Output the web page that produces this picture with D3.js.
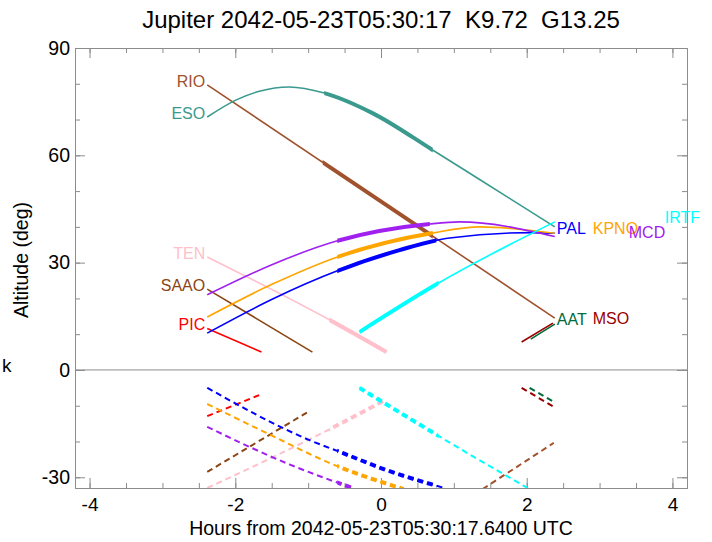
<!DOCTYPE html>
<html>
<head>
<meta charset="utf-8">
<script src="https://cdn.jsdelivr.net/npm/d3@7"></script>
<style>
  html, body { margin: 0; padding: 0; background: #fff; }
  svg { display: block; }
  text { font-family: "Liberation Sans", Arial, Helvetica, sans-serif; }
</style>
</head>
<body>
<svg id="chart" width="712" height="542"></svg>
<script>
// ---------------- DATA ----------------
const titleText = "Jupiter 2042-05-23T05:30:17  K9.72  G13.25";
const xLabelText = "Hours from 2042-05-23T05:30:17.6400 UTC";
const yLabelText = "Altitude (deg)";
const strayText = "k";

const xMajorTicks = [-4, -2, 0, 2, 4];
const xMinorTicks = d3.range(-4, 4.01, 0.5);
const yMajorTicks = [-30, 0, 30, 60, 90];
const yMinorTicks = d3.range(-30, 90.01, 10);

const stations = ["RIO", "ESO", "TEN", "SAAO", "PIC", "PAL", "KPNO", "MCD", "IRTF", "AAT", "MSO"];

// altitude tracks [hours, altitude deg]
const altRIO  = [[-2.385, 79.7], [2.385, 14.5]];
const altESO  = [[-2.385, 70.7], [-1.986, 75.5], [-1.67, 77.9], [-1.258, 79.1], [-0.777, 77.4], [-0.117, 71.8], [0.708, 61.5], [1.326, 53.6], [2.385, 40.0]];
const altTEN  = [[-2.385, 31.6], [-0.708, 14.0], [0.076, 5.0]];
const altSAAO = [[-2.385, 22.6], [-0.941, 5.0]];
const altPIC  = [[-2.385, 11.6], [-1.64, 5.0]];
const altPAL  = [[-2.385, 10.3], [-1.48, 19.9], [-0.598, 27.7], [0.254, 33.5], [0.942, 36.9], [2.082, 38.4], [2.385, 38.2]];
const altKPNO = [[-2.385, 14.8], [-1.49, 24.0], [-0.598, 31.6], [0.708, 38.3], [1.354, 40.0], [2.385, 38.2]];
const altMCD  = [[-2.385, 21.0], [-1.49, 29.5], [-0.598, 36.1], [0.667, 40.8], [1.079, 41.4], [2.385, 37.3]];
const altIRTF = [[-0.296, 10.6], [0.790, 24.3], [2.385, 41.4]];
const altAAT  = [[2.055, 8.6], [2.385, 12.8]];
const altMSO  = [[1.93, 7.8], [2.36, 13.1]];

// lower (dashed) tracks [hours, value]
const lowRIO  = [[1.395, -33.3], [2.371, -20.4]];
const lowESO  = [];
const lowTEN  = [[-2.385, -33.0], [-0.709, -16.6], [0.076, -8.2]];
const lowSAAO = [[-2.385, -28.5], [-0.983, -11.5]];
const lowPIC  = [[-2.385, -12.9], [-1.67, -7.0]];
const lowPAL  = [[-2.385, -5.0], [-0.983, -19.6], [-0.529, -23.2], [0.076, -28.0], [0.87, -33.0]];
const lowKPNO = [[-2.385, -9.5], [-1.574, -17.6], [-0.612, -26.8], [0.31, -33.3]];
const lowMCD  = [[-2.385, -15.9], [-1.258, -26.4], [-0.392, -33.0]];
const lowIRTF = [[-0.296, -5.0], [1.216, -23.6], [2.014, -33.0]];
const lowAAT  = [[2.04, -5.0], [2.37, -8.9]];
const lowMSO  = [[1.93, -5.0], [2.37, -10.3]];

// time windows (hours) drawn heavier
const thickRIO  = [-0.80, 0.71];
const thickESO  = [-0.78, 0.71];
const thickTEN  = [-0.71, 0.10];
const thickSAAO = null;
const thickPIC  = null;
const thickPAL  = [-0.60, 0.76];
const thickKPNO = [-0.60, 0.71];
const thickMCD  = [-0.60, 0.67];
const thickIRTF = [-0.30, 0.79];
const thickAAT  = null;
const thickMSO  = null;

// ---------------- STYLE / LAYOUT ----------------
const colors = {
  RIO: "#a0522d", ESO: "#3a9a8e", TEN: "#ffc0cb", SAAO: "#8b4513", PIC: "#ff0000",
  PAL: "#0000ff", KPNO: "#ffa500", MCD: "#a020f0", IRTF: "#00ffff", AAT: "#006a3a", MSO: "#990000"
};
const labelPlace = {
  RIO: {side: "L"}, ESO: {side: "L"}, TEN: {side: "L"}, SAAO: {side: "L"}, PIC: {side: "L"},
  PAL: {side: "R", step: 0, ref: "PAL"}, KPNO: {side: "R", step: 1, ref: "PAL"},
  MCD: {side: "R", step: 2, ref: "PAL"}, IRTF: {side: "R", step: 3, ref: "PAL"},
  AAT: {side: "R", step: 0, ref: "RIO"}, MSO: {side: "R", step: 1, ref: "RIO"}
};

const alt = {RIO: altRIO, ESO: altESO, TEN: altTEN, SAAO: altSAAO, PIC: altPIC, PAL: altPAL, KPNO: altKPNO, MCD: altMCD, IRTF: altIRTF, AAT: altAAT, MSO: altMSO};
const low = {RIO: lowRIO, ESO: lowESO, TEN: lowTEN, SAAO: lowSAAO, PIC: lowPIC, PAL: lowPAL, KPNO: lowKPNO, MCD: lowMCD, IRTF: lowIRTF, AAT: lowAAT, MSO: lowMSO};
const thick = {RIO: thickRIO, ESO: thickESO, TEN: thickTEN, SAAO: thickSAAO, PIC: thickPIC, PAL: thickPAL, KPNO: thickKPNO, MCD: thickMCD, IRTF: thickIRTF, AAT: thickAAT, MSO: thickMSO};

const L = 75, R = 687, T = 48, B = 488;
const axisColor = "#8c8c8c";

const svg = d3.select("#chart");
const x = d3.scaleLinear().domain([-4.2, 4.2]).range([L, R]);
const y = d3.scaleLinear().domain([-33, 90]).range([B, T]);

const defs = svg.append("defs");
defs.append("clipPath").attr("id", "plotclip")
  .append("rect").attr("x", L).attr("y", T).attr("width", R - L).attr("height", B - T);

const line = d3.line().x(d => x(d[0])).y(d => y(d[1])).curve(d3.curveMonotoneX);

stations.forEach(s => {
  const w = thick[s];
  if (!w) return;
  defs.append("clipPath").attr("id", "thick-" + s)
    .append("rect").attr("x", x(w[0])).attr("y", T)
    .attr("width", x(w[1]) - x(w[0])).attr("height", B - T);
});

function addAxis(gen, transform, ticks, size, labels) {
  const g = svg.append("g").attr("transform", transform)
    .call(gen.tickValues(ticks).tickSizeInner(size).tickSizeOuter(0));
  g.select(".domain").attr("stroke", axisColor);
  g.selectAll(".tick line").attr("stroke", axisColor);
  if (!labels) g.selectAll(".tick text").remove();
  return g;
}
const fmt = d => String(d);
addAxis(d3.axisBottom(x), `translate(0,${B})`, xMinorTicks, -5, false);
addAxis(d3.axisTop(x), `translate(0,${T})`, xMinorTicks, -5, false);
addAxis(d3.axisLeft(y), `translate(${L},0)`, yMinorTicks, -5, false);
addAxis(d3.axisRight(y), `translate(${R},0)`, yMinorTicks, -5, false);
const gx = addAxis(d3.axisBottom(x).tickFormat(fmt).tickPadding(10), `translate(0,${B})`, xMajorTicks, -10, true);
gx.selectAll(".tick text").attr("font-size", 19).attr("fill", "#000")
  .attr("font-family", '"Liberation Sans", Arial, sans-serif');
addAxis(d3.axisTop(x), `translate(0,${T})`, xMajorTicks, -10, false);
const gy = addAxis(d3.axisLeft(y).tickFormat(fmt).tickPadding(5), `translate(${L},0)`, yMajorTicks, -10, true);
gy.selectAll(".tick text").attr("font-size", 19.5).attr("fill", "#000")
  .attr("font-family", '"Liberation Sans", Arial, sans-serif');
addAxis(d3.axisRight(y), `translate(${R},0)`, yMajorTicks, -10, false);

svg.append("line").attr("x1", L).attr("x2", R).attr("y1", y(0)).attr("y2", y(0))
  .attr("stroke", axisColor).attr("stroke-width", 1);

const plot = svg.append("g").attr("clip-path", "url(#plotclip)");
stations.forEach(s => {
  const c = colors[s];
  if (alt[s].length) {
    plot.append("path").attr("d", line(alt[s])).attr("fill", "none")
      .attr("stroke", c).attr("stroke-width", 1.6);
  }
  if (low[s].length) {
    plot.append("path").attr("d", line(low[s])).attr("fill", "none")
      .attr("stroke", c).attr("stroke-width", 2).attr("stroke-dasharray", "6,4");
  }
  if (thick[s]) {
    const gt = plot.append("g").attr("clip-path", `url(#thick-${s})`);
    if (alt[s].length) gt.append("path").attr("d", line(alt[s])).attr("fill", "none")
      .attr("stroke", c).attr("stroke-width", 4);
    if (low[s].length) gt.append("path").attr("d", line(low[s])).attr("fill", "none")
      .attr("stroke", c).attr("stroke-width", 4).attr("stroke-dasharray", "6,4");
  }
});

stations.forEach(s => {
  const p = labelPlace[s];
  const pts = alt[s];
  let tx, ty, anchor;
  if (p.side === "L") {
    const f = pts[0];
    tx = x(f[0]) - 2; ty = y(f[1]) + 2; anchor = "end";
  } else {
    const ref = alt[p.ref];
    const e = pts[pts.length - 1];
    const base = x(ref[ref.length - 1][0]);
    tx = base + 2 + p.step * 36; ty = y(e[1]) + 1; anchor = "start";
  }
  svg.append("text").attr("x", tx).attr("y", ty).attr("text-anchor", anchor)
    .attr("font-size", 16).attr("fill", colors[s]).text(s);
});

svg.append("text").attr("x", (L + R) / 2).attr("y", 28).attr("text-anchor", "middle")
  .style("white-space", "pre").attr("xml:space", "preserve")
  .attr("font-size", 24).attr("fill", "#000").text(titleText);
svg.append("text").attr("x", (L + R) / 2).attr("y", 535).attr("text-anchor", "middle")
  .attr("font-size", 19.5).attr("fill", "#000").text(xLabelText);
svg.append("text").attr("transform", `translate(28,260) rotate(-90)`)
  .attr("text-anchor", "middle").attr("font-size", 19.5).attr("fill", "#000").text(yLabelText);
svg.append("text").attr("x", 2).attr("y", 372).attr("font-size", 19)
  .attr("font-family", '"DejaVu Serif", "Liberation Serif", serif').attr("fill", "#000").text(strayText);
</script>
</body>
</html>
